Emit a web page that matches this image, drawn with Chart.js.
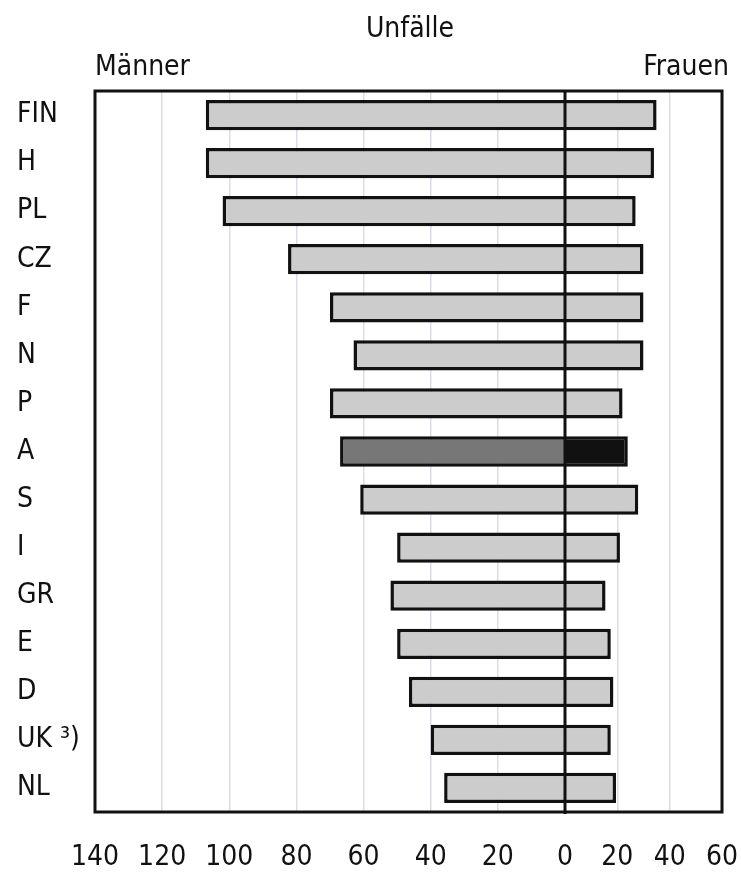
<!DOCTYPE html>
<html lang="de">
<head>
<meta charset="utf-8">
<title>Unfälle</title>
<script src="https://cdn.jsdelivr.net/npm/chart.js@4.4.1/dist/chart.umd.min.js"></script>
<style>
  html, body { margin: 0; padding: 0; background: #fff; }
  #wrap { width: 741px; height: 878px; position: relative; }
</style>
</head>
<body>
<div id="wrap"><canvas id="unfallChart" width="741" height="878"></canvas></div>
<script>
const laender = ['FIN', 'H', 'PL', 'CZ', 'F', 'N', 'P', 'A', 'S', 'I', 'GR', 'E', 'D', 'UK \u00b3)', 'NL'];
const maenner = [107, 107, 102, 82.5, 70, 63, 70, 67, 61, 50, 52, 50, 46.5, 40, 36];
const frauen = [35, 34, 27, 30, 30, 30, 22, 24, 28, 21, 15.5, 17.5, 18.5, 17.5, 19.5];
const maennerTicks = [140, 120, 100, 80, 60, 40, 20, 0];
const frauenTicks = [0, 20, 40, 60];

const FONT = "'DejaVu Sans Condensed', 'Liberation Sans Narrow', 'Liberation Sans', sans-serif";
const TEXT = '#111';

// Österreich hervorgehoben
const fillMaenner = laender.map(l => l === 'A' ? '#777777' : '#cccccc');
const fillFrauen = laender.map(l => l === 'A' ? '#111111' : '#cccccc');

const rahmenPlugin = {
  id: 'rahmen',
  afterDatasetsDraw(chart) {
    const { ctx, chartArea: a } = chart;
    const x0 = chart.scales.xm.getPixelForValue(0);
    ctx.save();
    ctx.strokeStyle = '#111';
    ctx.lineWidth = 3;
    ctx.beginPath();
    ctx.moveTo(x0, a.top);
    ctx.lineTo(x0, a.bottom + 2);
    ctx.stroke();
    ctx.strokeRect(a.left, a.top, a.right - a.left, a.bottom - a.top);

    ctx.fillStyle = TEXT;
    ctx.font = '28px ' + FONT;
    ctx.textBaseline = 'middle';
    ctx.textAlign = 'center';
    ctx.fillText('Unfälle', 410, 30);
    ctx.textAlign = 'left';
    ctx.fillText('Männer', 95, 68);
    ctx.textAlign = 'right';
    ctx.fillText('Frauen', 729, 68);
    ctx.restore();
  }
};

function gridFarbe(innen) {
  return c => innen.includes(c.tick.value) ? '#dcdce6' : 'rgba(0,0,0,0)';
}

// gestapelte x-Achsen: seitliches Auffüllen für Randbeschriftungen abschalten
function achseFit(s) {
  s.height = 66;
  s.paddingLeft = 0;
  s.paddingRight = 0;
}

function renderUnfallChart() {
  const ctx = document.getElementById('unfallChart');
  new Chart(ctx, {
    type: 'bar',
    data: {
      labels: laender,
      datasets: [{
        label: 'Männer',
        data: maenner,
        xAxisID: 'xm',
        backgroundColor: fillMaenner,
        borderColor: '#111',
        borderWidth: 3.5,
        borderSkipped: 'start',
        grouped: false
      }, {
        label: 'Frauen',
        data: frauen,
        xAxisID: 'xw',
        backgroundColor: fillFrauen,
        borderColor: '#111',
        borderWidth: 3.5,
        borderSkipped: 'start',
        grouped: false
      }]
    },
    options: {
      indexAxis: 'y',
      responsive: false,
      animation: false,
      categoryPercentage: 1,
      barPercentage: 0.63,
      layout: { padding: { top: 91, left: 17, right: 19, bottom: 0 } },
      plugins: { legend: { display: false }, tooltip: { enabled: false } },
      scales: {
        y: {
          grid: { display: false },
          border: { display: false },
          ticks: { color: TEXT, crossAlign: 'far', padding: 0, font: { family: FONT, size: 28 } },
          afterFit: s => { s.width = 78; }
        },
        xm: {
          type: 'linear',
          position: 'bottom',
          stack: 'x',
          stackWeight: 470,
          reverse: true,
          min: 0,
          max: 140,
          afterBuildTicks: s => { s.ticks = maennerTicks.map(v => ({ value: v })); },
          grid: { color: gridFarbe([20, 40, 60, 80, 100, 120]), lineWidth: 1.5, drawTicks: false },
          border: { display: false },
          ticks: { color: TEXT, padding: 29, autoSkip: false, maxRotation: 0, font: { family: FONT, size: 28 } },
          afterFit: achseFit
        },
        xw: {
          type: 'linear',
          position: 'bottom',
          stack: 'x',
          stackWeight: 157,
          min: 0,
          max: 60,
          afterBuildTicks: s => { s.ticks = frauenTicks.map(v => ({ value: v })); },
          grid: { color: gridFarbe([20, 40]), lineWidth: 1.5, drawTicks: false },
          border: { display: false },
          ticks: {
            color: TEXT, padding: 29, autoSkip: false, maxRotation: 0,
            font: { family: FONT, size: 28 },
            callback: v => v === 0 ? '' : v
          },
          afterFit: achseFit
        }
      }
    },
    plugins: [rahmenPlugin]
  });
}

renderUnfallChart();
</script>
</body>
</html>
